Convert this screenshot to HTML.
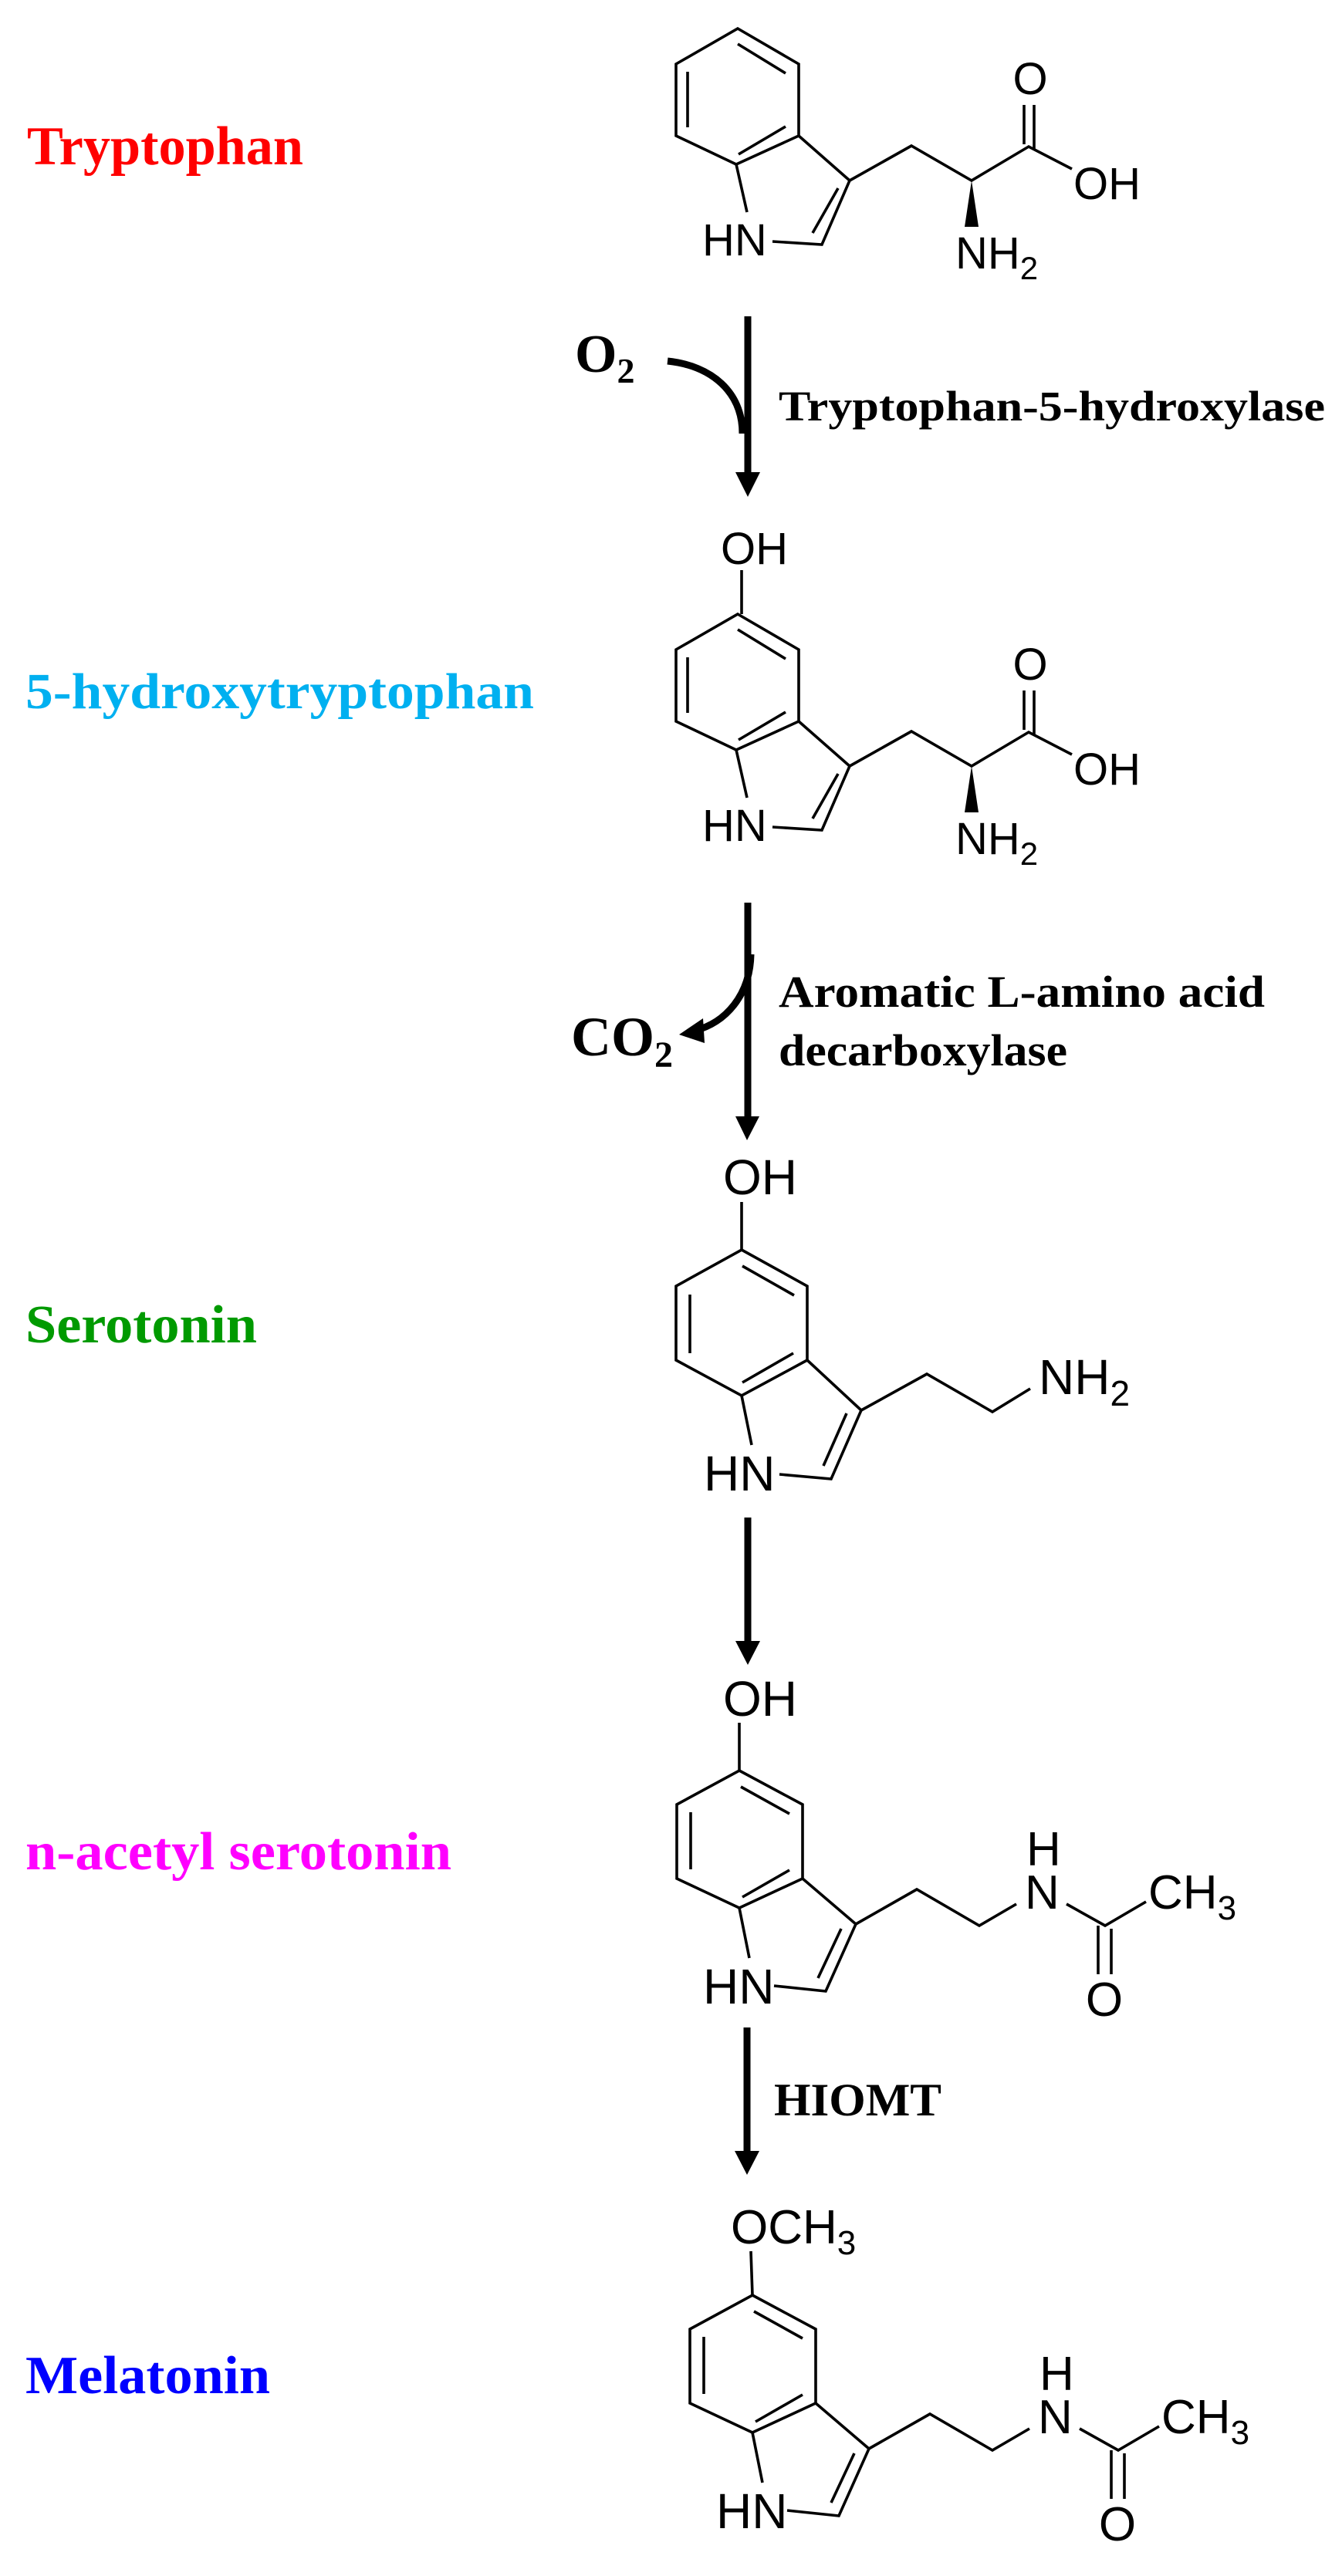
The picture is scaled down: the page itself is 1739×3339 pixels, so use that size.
<!DOCTYPE html>
<html><head><meta charset="utf-8"><style>
html,body{margin:0;padding:0;background:#fff;}
svg{display:block;}
.b{stroke:#000;stroke-width:3.6;fill:none;stroke-linecap:butt;stroke-linejoin:miter;}
.a{font-family:"Liberation Sans",Arial,sans-serif;fill:#000;}
.t{font-family:"Liberation Serif","Times New Roman",serif;font-weight:bold;}
</style></head><body>
<svg width="1739" height="3339" viewBox="0 0 1739 3339" xmlns="http://www.w3.org/2000/svg">
<rect width="1739" height="3339" fill="#fff"/>

<!-- Labels -->
<text class="t" x="35" y="213" font-size="71" fill="#ff0000" textLength="358" lengthAdjust="spacingAndGlyphs">Tryptophan</text>
<text class="t" x="33" y="918" font-size="66" fill="#00b0f0" textLength="659" lengthAdjust="spacingAndGlyphs">5-hydroxytryptophan</text>
<text class="t" x="33" y="1740" font-size="70" fill="#009a00" textLength="300" lengthAdjust="spacingAndGlyphs">Serotonin</text>
<text class="t" x="33" y="2423" font-size="70" fill="#ff00ff" textLength="552" lengthAdjust="spacingAndGlyphs">n-acetyl serotonin</text>
<text class="t" x="33" y="3102" font-size="70" fill="#0000ff" textLength="317" lengthAdjust="spacingAndGlyphs">Melatonin</text>

<!-- Tryptophan -->
<g id="trp">
<polygon class="b" points="956,37 1035,83 1035,176 954,213 876,176 876,83"/>
<line class="b" x1="956" y1="57" x2="1018" y2="95"/>
<line class="b" x1="891" y1="93" x2="891" y2="165"/>
<line class="b" x1="1018" y1="164" x2="957" y2="200"/>
<line class="b" x1="954" y1="213" x2="968" y2="275"/>
<polyline class="b" points="1001,313 1065,317 1101,234 1035,176"/>
<line class="b" x1="1053" y1="302" x2="1086" y2="244"/>
<polyline class="b" points="1101,234 1181,189 1259,234 1333,190 1389,219"/>
<line class="b" x1="1327" y1="187" x2="1327" y2="136"/>
<line class="b" x1="1340" y1="194" x2="1340" y2="136"/>
<polygon points="1259,234 1250,294 1268,294" fill="#000"/>
<text class="a" x="1335" y="122" font-size="58" text-anchor="middle">O</text>
<text class="a" x="1391" y="258" font-size="58">OH</text>
<text class="a" x="910" y="331" font-size="58">HN</text>
<text class="a" x="1238" y="348" font-size="58">NH<tspan font-size="42" dy="14">2</tspan></text>
</g>

<!-- Arrow 1 -->
<line x1="969" y1="410" x2="969" y2="616" stroke="#000" stroke-width="9"/>
<polygon points="953,612 985,612 969,644" fill="#000"/>
<path d="M865,468 C922,474 962,508 962,562" stroke="#000" stroke-width="9" fill="none"/>
<text class="t" x="745" y="482" font-size="70">O<tspan font-size="46" dy="14">2</tspan></text>
<text class="t" x="1009" y="545" font-size="55" textLength="708" lengthAdjust="spacingAndGlyphs">Tryptophan-5-hydroxylase</text>

<!-- 5-HTP -->
<use href="#trp" transform="translate(0,759)"/>
<text class="a" x="934" y="731" font-size="58">OH</text>
<line class="b" x1="961" y1="739" x2="961" y2="796"/>

<!-- Arrow 2 -->
<line x1="969" y1="1170" x2="969" y2="1450" stroke="#000" stroke-width="9"/>
<polygon points="953,1447 984,1447 968,1478" fill="#000"/>
<path d="M973,1237 C972,1290 940,1326 900,1336" stroke="#000" stroke-width="9" fill="none"/>
<polygon points="880,1341 911,1320 913,1352" fill="#000"/>
<text class="t" x="740" y="1368" font-size="72">CO<tspan font-size="48" dy="15">2</tspan></text>
<text class="t" x="1009" y="1305" font-size="58" textLength="630" lengthAdjust="spacingAndGlyphs">Aromatic L-amino acid</text>
<text class="t" x="1009" y="1381" font-size="58" textLength="374" lengthAdjust="spacingAndGlyphs">decarboxylase</text>

<!-- Serotonin -->
<text class="a" x="937" y="1548" font-size="64">OH</text>
<line class="b" x1="961" y1="1558" x2="961" y2="1620"/>
<polygon class="b" points="961,1620 1046,1667 1046,1763 961,1809 876,1763 876,1667"/>
<line class="b" x1="962" y1="1641" x2="1029" y2="1679"/>
<line class="b" x1="894" y1="1678" x2="894" y2="1754"/>
<line class="b" x1="1028" y1="1754" x2="962" y2="1792"/>
<line class="b" x1="961" y1="1809" x2="974" y2="1873"/>
<polyline class="b" points="1010,1911 1077,1917 1116,1828 1046,1763"/>
<line class="b" x1="1067" y1="1900" x2="1097" y2="1832"/>
<polyline class="b" points="1116,1828 1201,1781 1286,1830 1335,1800"/>
<text class="a" x="912" y="1932" font-size="64">HN</text>
<text class="a" x="1346" y="1807" font-size="64">NH<tspan font-size="46" dy="15">2</tspan></text>

<!-- Arrow 3 -->
<line x1="969" y1="1967" x2="969" y2="2130" stroke="#000" stroke-width="9"/>
<polygon points="953,2127 985,2127 969,2158" fill="#000"/>

<!-- N-acetyl serotonin -->
<text class="a" x="937" y="2224" font-size="64">OH</text>
<line class="b" x1="958" y1="2233" x2="958" y2="2295"/>
<g id="nas">
<polygon class="b" points="958,2295 1040,2339 1040,2435 958,2473 877,2435 877,2339"/>
<line class="b" x1="960" y1="2316" x2="1023" y2="2351"/>
<line class="b" x1="895" y1="2349" x2="895" y2="2423"/>
<line class="b" x1="1023" y1="2424" x2="962" y2="2459"/>
<line class="b" x1="958" y1="2473" x2="971" y2="2538"/>
<polyline class="b" points="1003,2574 1070,2581 1109,2494 1040,2435"/>
<line class="b" x1="1060" y1="2564" x2="1090" y2="2500"/>
<polyline class="b" points="1109,2494 1188,2449 1269,2496 1317,2468"/>
<polyline class="b" points="1382,2468 1432,2496 1485,2465"/>
<line class="b" x1="1423" y1="2496" x2="1423" y2="2559"/>
<line class="b" x1="1440" y1="2500" x2="1440" y2="2559"/>
<text class="a" x="911" y="2597" font-size="64">HN</text>
<text class="a" x="1330" y="2418" font-size="62">H</text>
<text class="a" x="1328" y="2474" font-size="62">N</text>
<text class="a" x="1488" y="2474" font-size="62">CH<tspan font-size="44" dy="14">3</tspan></text>
<text class="a" x="1431" y="2613" font-size="62" text-anchor="middle">O</text>
</g>

<!-- Arrow 4 -->
<line x1="968" y1="2628" x2="968" y2="2791" stroke="#000" stroke-width="9"/>
<polygon points="952,2788 984,2788 968,2819" fill="#000"/>
<text class="t" x="1003" y="2742" font-size="60" textLength="217" lengthAdjust="spacingAndGlyphs">HIOMT</text>

<!-- Melatonin -->
<text class="a" x="947" y="2908" font-size="62">OCH<tspan font-size="44" dy="14">3</tspan></text>
<line class="b" x1="973" y1="2918" x2="975" y2="2975"/>
<use href="#nas" transform="translate(17,680)"/>
</svg>
</body></html>
